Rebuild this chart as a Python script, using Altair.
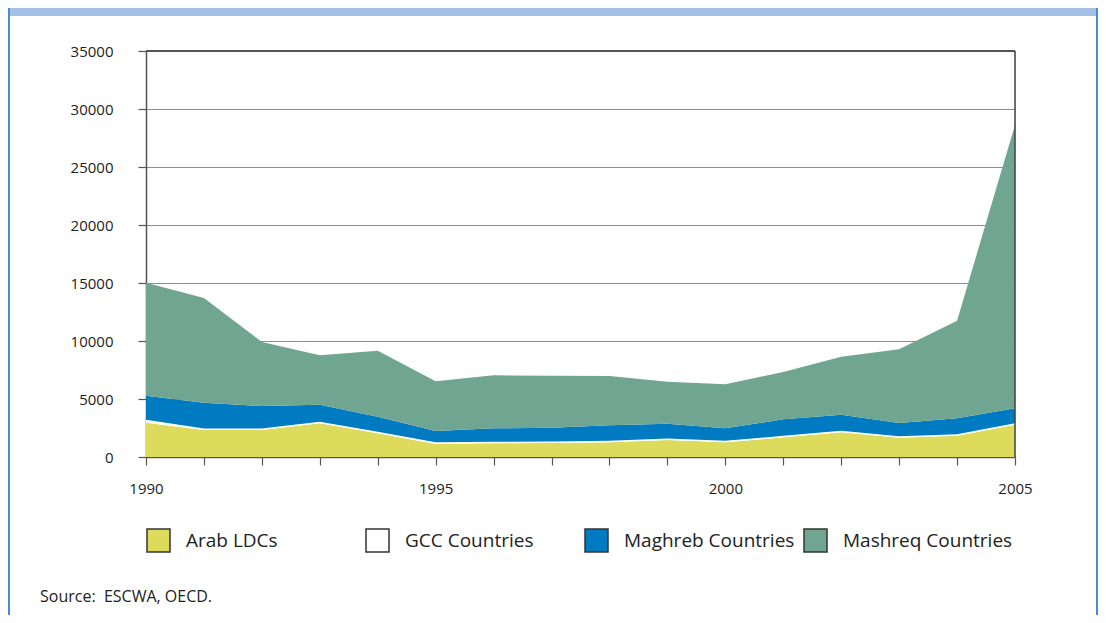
import altair as alt
import pandas as pd

years = list(range(1990, 2006))
series_names = ["Arab LDCs", "GCC Countries", "Maghreb Countries", "Mashreq Countries"]
series_colors = ["#dcdb5b", "#ffffff", "#007bc2", "#70a592"]

arab_ldcs = [2957, 2327, 2327, 2902, 2040, 1121, 1178, 1207, 1264, 1466, 1264, 1695, 2126, 1667, 1839, 2787]
gcc = [250, 130, 130, 140, 130, 140, 130, 130, 130, 130, 130, 130, 130, 130, 130, 130]
maghreb = [2080, 2227, 1940, 1469, 1307, 980, 1163, 1192, 1336, 1278, 1077, 1422, 1393, 1134, 1364, 1278]
mashreq = [9739, 9023, 5517, 4253, 5690, 4282, 4569, 4482, 4253, 3620, 3793, 4081, 5000, 6351, 8420, 24425]

y_ticks = [0, 5000, 10000, 15000, 20000, 25000, 30000, 35000]
x_label_years = [1990, 1995, 2000, 2005]
source_text = "Source:\u00a0 ESCWA, OECD."

rows = []
for idx, (name, vals) in enumerate(zip(series_names, [arab_ldcs, gcc, maghreb, mashreq])):
    for yr, v in zip(years, vals):
        rows.append({"year": yr, "series": name, "value": v, "idx": idx})
df = pd.DataFrame(rows)

FONT = "Open Sans"

xscale = alt.Scale(domain=[1990, 2005], nice=False, zero=False)
yscale = alt.Scale(domain=[0, 35000], nice=False)

areas = alt.Chart(df).mark_area(opacity=1, interpolate="linear").encode(
    x=alt.X("year:Q", scale=xscale,
            axis=alt.Axis(title=None, values=years, format="d",
                          labelExpr="indexof(" + str(x_label_years) + ", datum.value) >= 0 ? datum.label : ''",
                          grid=False, tickSize=8, labelPadding=16, labelFlush=False,
                          domainColor="#555", tickColor="#555", domainWidth=1.5, tickWidth=1.2,
                          labelFontSize=15, labelColor="#222", labelFont=FONT)),
    y=alt.Y("value:Q", stack="zero", scale=yscale,
            axis=alt.Axis(title=None, values=y_ticks, format="d",
                          grid=True, gridColor="#8c8c8c", gridWidth=1,
                          tickSize=8, labelPadding=25, labelFlush=False,
                          domainColor="#555", tickColor="#555", domainWidth=1.5, tickWidth=1.2,
                          labelFontSize=15, labelColor="#222", labelFont=FONT)),
    color=alt.Color("series:N",
                    scale=alt.Scale(domain=series_names, range=series_colors),
                    legend=alt.Legend(title=None, orient="none", legendX=0, legendY=477,
                                      direction="horizontal", columns=4, gridAlign="all",
                                      columnPadding=6, symbolType="square", symbolSize=529,
                                      symbolStrokeColor="#333", symbolStrokeWidth=1.5,
                                      symbolOpacity=1, labelFontSize=19, labelOffset=15,
                                      labelColor="#222", labelFont=FONT, padding=0,
                                      labelLimit=400)),
    order=alt.Order("idx:Q"),
)

deco = pd.DataFrame({"d": [0]})
frame_top = alt.Chart(deco).mark_rule(color="#555", strokeWidth=2).encode(
    y=alt.datum(35000, scale=yscale), x=alt.datum(1990, scale=xscale), x2=alt.datum(2005))
frame_right = alt.Chart(deco).mark_rule(color="#444", strokeWidth=1.5).encode(
    x=alt.datum(2005, scale=xscale), y=alt.datum(0, scale=yscale), y2=alt.datum(35000))
band = alt.Chart(deco).mark_rect(color="#a3c1e6").encode(
    x=alt.value(-138), x2=alt.value(952), y=alt.value(-43), y2=alt.value(-35))
left_line = alt.Chart(deco).mark_rect(color="#4a8dc8").encode(
    x=alt.value(-138), x2=alt.value(-136), y=alt.value(-43), y2=alt.value(564))
right_line = alt.Chart(deco).mark_rect(color="#4a8dc8").encode(
    x=alt.value(950), x2=alt.value(952), y=alt.value(-43), y2=alt.value(564))
source = alt.Chart(deco).mark_text(align="left", baseline="middle", fontSize=16,
                                   font=FONT, color="#222").encode(
    x=alt.value(-106), y=alt.value(546), text=alt.value(source_text))

chart = alt.layer(areas, frame_top, frame_right, band, left_line, right_line, source).properties(
    width=869, height=406,
    padding={"left": 138, "top": 43, "right": 83, "bottom": 158},
    autosize=alt.AutoSizeParams(type="none"),
).configure_view(stroke=None).configure(font=FONT)

chart.save("out.html", embed_options={"renderer": "svg", "actions": False})
